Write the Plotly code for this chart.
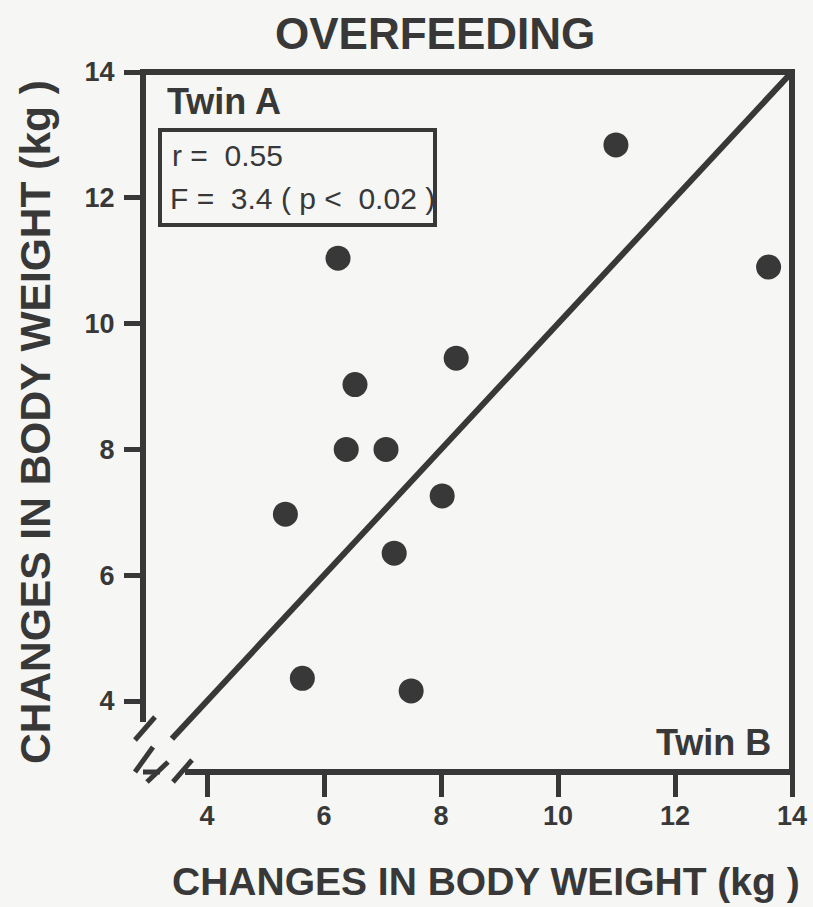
import plotly.graph_objects as go

# Data (Twin B on x, Twin A on y, kg)
twin_b = [10.99, 13.6, 6.24, 8.26, 6.53, 6.38, 7.06, 8.02, 5.34, 7.2, 5.63, 7.49]
twin_a = [12.84, 10.9, 11.04, 9.45, 9.03, 8.0, 8.0, 7.26, 6.97, 6.35, 4.36, 4.16]
identity_x = [3.4, 14]
identity_y = [3.4, 14]
tick_vals = [4, 6, 8, 10, 12, 14]
tick_text = ["4", "6", "8", "10", "12", "14"]

INK = "#383838"
BG = "#f6f6f4"
FONT = "Liberation Sans, Arial, Helvetica, sans-serif"

# plot area in pixels
L, R, T, B = 143, 792, 72, 772
W, H = 813, 907
PW, PH = R - L, B - T

def px(xp):
    return (xp - L) / PW

def py(yp):
    return (B - yp) / PH

fig = go.Figure()
fig.add_trace(go.Scatter(x=identity_x, y=identity_y, mode="lines",
                         line=dict(color=INK, width=6), hoverinfo="skip"))
fig.add_trace(go.Scatter(x=twin_b, y=twin_a, mode="markers",
                         marker=dict(color=INK, size=25, line=dict(width=0))))

shapes = []
def seg(x0, y0, x1, y1, w=6):
    shapes.append(dict(type="line", xref="paper", yref="paper",
                       x0=px(x0), y0=py(y0), x1=px(x1), y1=py(y1),
                       line=dict(color=INK, width=w)))

# frame
seg(L - 3, T, R + 3, T)
seg(R, T, R, B + 3)
seg(L, T, L, 722)
seg(185, B, R + 3, B)
seg(L, B, 160, B, 5)
# break marks
seg(135, 740, 155, 717, 5)
seg(135, 772, 153, 747, 5)
seg(147, 782, 168, 762, 5)
seg(173, 782, 192, 760, 5)
# stats box
shapes.append(dict(type="rect", xref="paper", yref="paper",
                   x0=px(160), x1=px(435), y0=py(225), y1=py(130),
                   line=dict(color=INK, width=4), fillcolor="rgba(0,0,0,0)"))

annotations = [
    dict(text="Twin A", x=px(165), y=py(101), xanchor="left", yanchor="middle",
         font=dict(size=36, color=INK, family=FONT, weight="bold")),
    dict(text="r =  0.55", x=px(170), y=py(155), xanchor="left", yanchor="middle",
         font=dict(size=30, color=INK, family=FONT)),
    dict(text="F =  3.4 ( p <  0.02 )", x=px(168), y=py(198), xanchor="left", yanchor="middle",
         font=dict(size=30, color=INK, family=FONT)),
    dict(text="Twin B", x=px(773), y=py(742), xanchor="right", yanchor="middle",
         font=dict(size=36, color=INK, family=FONT, weight="bold")),
    dict(text="CHANGES IN BODY WEIGHT (kg )", x=px(486), y=py(881),
         xanchor="center", yanchor="middle",
         font=dict(size=39, color=INK, family=FONT, weight="bold")),
    dict(text="CHANGES IN BODY WEIGHT (kg )", x=px(35), y=py(422), textangle=-90,
         xanchor="center", yanchor="middle",
         font=dict(size=42.5, color=INK, family=FONT, weight="bold")),
    dict(text="OVERFEEDING", x=px(435), y=py(33), xanchor="center", yanchor="middle",
         font=dict(size=44, color=INK, family=FONT, weight="bold")),
]
for a in annotations:
    a.update(xref="paper", yref="paper", showarrow=False)

tickfont = dict(size=27, color=INK, family=FONT, weight="bold")
axis_common = dict(
    tickmode="array", tickvals=tick_vals, ticktext=tick_text, ticks="outside",
    tickcolor=INK, tickwidth=5, showgrid=False, zeroline=False, showline=False,
    fixedrange=True, automargin=False,
)
fig.update_xaxes(range=[14 - PW / 58.5, 14], ticklen=24, ticklabelstandoff=-4,
                 tickfont=tickfont, **axis_common)
fig.update_yaxes(range=[14 - PH / 62.9, 14], ticklen=18, ticklabelstandoff=4,
                 tickfont=tickfont, **axis_common)

fig.update_layout(
    width=W, height=H, autosize=False,
    margin=dict(l=L, r=W - R, t=T, b=H - B, pad=0, autoexpand=False),
    paper_bgcolor=BG, plot_bgcolor=BG,
    showlegend=False,
    shapes=shapes, annotations=annotations,
)
fig.write_html("out.html", config={"displayModeBar": False, "responsive": False},
               post_script="document.body.style.margin='0';document.body.style.overflow='hidden';")
